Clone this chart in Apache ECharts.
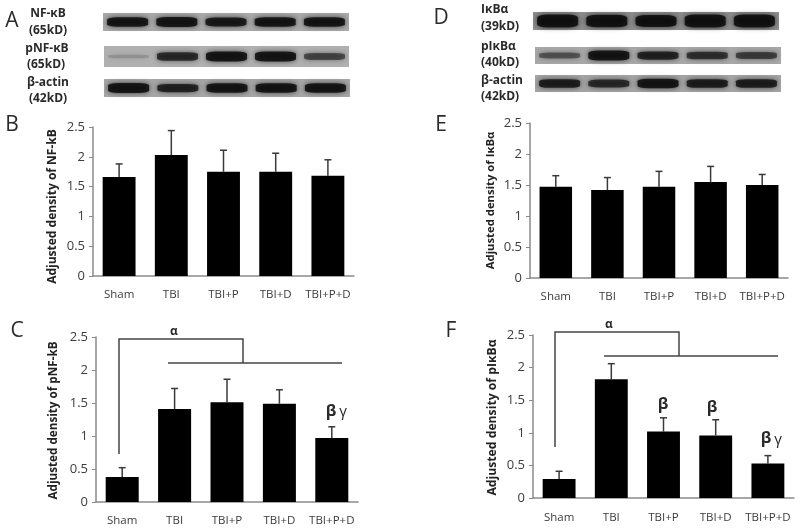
<!DOCTYPE html>
<html>
<head>
<meta charset="utf-8">
<style>
html, body { margin: 0; padding: 0; background: #fff; }
#main { width: 800px; height: 529px; }
</style>
<script src="https://cdn.jsdelivr.net/npm/echarts@6/dist/echarts.min.js"></script>
</head>
<body>
<div id="main"></div>
<script>
const groups = ["Sham", "TBI", "TBI+P", "TBI+D", "TBI+P+D"];
const yTicks = [0, 0.5, 1, 1.5, 2, 2.5];

// bar heights and upper end of the error bars
const nfkbMean = [1.66, 2.03, 1.75, 1.75, 1.68];
const nfkbTop = [1.88, 2.44, 2.11, 2.06, 1.95];
const pnfkbMean = [0.38, 1.41, 1.51, 1.49, 0.97];
const pnfkbTop = [0.52, 1.72, 1.86, 1.70, 1.14];
const ikbMean = [1.47, 1.42, 1.47, 1.55, 1.50];
const ikbTop = [1.65, 1.62, 1.72, 1.80, 1.67];
const pikbMean = [0.29, 1.82, 1.02, 0.96, 0.53];
const pikbTop = [0.41, 2.06, 1.23, 1.20, 0.65];

// how dark each lane of the blots looks (0-1)
const blotNfkb = [0.9, 1, 0.85, 0.95, 0.9];
const blotPnfkb = [0.05, 0.7, 0.9, 0.9, 0.5];
const blotActinA = [1, 0.75, 0.9, 0.95, 0.9];
const blotIkb = [1, 0.95, 0.9, 1, 1];
const blotPikb = [0.4, 1, 0.75, 0.65, 0.55];
const blotActinD = [0.8, 0.7, 0.9, 0.8, 0.8];

const panels = [
    { mean: nfkbMean, top: nfkbTop, name: "Adjusted density of NF-kB", left: 93, width: 261, y0: 127, h: 149, nameGap: 34, nameSize: 12, shift: 10, margin: 13 },
    { mean: pnfkbMean, top: pnfkbTop, name: "Adjusted density of pNF-kB", left: 96, width: 262, y0: 337, h: 165, nameGap: 36, nameSize: 11.7, shift: 2, margin: 13 },
    { mean: ikbMean, top: ikbTop, name: "Adjusted density of I\u03BAB\u03B1", left: 530, width: 258, y0: 123, h: 155, nameGap: 34, nameSize: 11.3, shift: 0, margin: 13 },
    { mean: pikbMean, top: pikbTop, name: "Adjusted density of pI\u03BAB\u03B1", left: 533, width: 261, y0: 335, h: 163, nameGap: 34, nameSize: 12.2, shift: 2, margin: 14 }
];

const blots = [
    { lanes: blotNfkb, left: 103, width: 246, y0: 13, h: 18, bg: "#a9a9a9", thick: 7 },
    { lanes: blotPnfkb, left: 104, width: 245, y0: 46, h: 21, bg: "#b0b0b0", thick: 8 },
    { lanes: blotActinA, left: 104, width: 246, y0: 79, h: 18, bg: "#a6a6a6", thick: 7 },
    { lanes: blotIkb, left: 533, width: 246, y0: 12, h: 18, bg: "#8c8c8c", thick: 10 },
    { lanes: blotPikb, left: 535, width: 246, y0: 47, h: 17, bg: "#a8a8a8", thick: 7 },
    { lanes: blotActinD, left: 535, width: 246, y0: 75, h: 17, bg: "#a4a4a4", thick: 7 }
];

const axisGrey = "#8a8a8a";
const textGrey = "#3c3c3c";
const uiFont = "'Open Sans', sans-serif";

const grid = [], xAxis = [], yAxis = [], series = [];

panels.forEach(function (p, i) {
    grid.push({ left: p.left, width: p.width, top: p.y0, height: p.h });
    xAxis.push({
        type: "category",
        gridIndex: i,
        data: groups,
        axisLine: { lineStyle: { color: axisGrey, width: 1.5 } },
        axisTick: { length: 4, lineStyle: { color: axisGrey, width: 1 } },
        axisLabel: { color: textGrey, fontFamily: uiFont, fontSize: 11.5, margin: p.margin, interval: 0 }
    });
    yAxis.push({
        type: "value",
        gridIndex: i,
        min: yTicks[0],
        max: yTicks[yTicks.length - 1],
        interval: 0.5,
        name: p.name,
        nameLocation: "middle",
        nameGap: p.nameGap,
        nameTextStyle: { color: "#222", fontFamily: uiFont, fontWeight: "bold", fontSize: p.nameSize, padding: [0, p.shift, 0, 0] },
        splitLine: { show: false },
        axisLine: { show: true, lineStyle: { color: axisGrey, width: 1.5 } },
        axisTick: { show: true, length: 4, lineStyle: { color: axisGrey, width: 1 } },
        axisLabel: { color: textGrey, fontFamily: uiFont, fontSize: 13, margin: 8 }
    });
    series.push({
        type: "bar",
        xAxisIndex: i,
        yAxisIndex: i,
        data: p.mean,
        barWidth: "63%",
        itemStyle: { color: "#000" }
    });
    series.push({
        type: "custom",
        xAxisIndex: i,
        yAxisIndex: i,
        z: 1,
        data: p.top.map(function (t, k) { return [k, p.mean[k], t]; }),
        // just the upper half of the whisker, the bar hides the rest
        renderItem: function (params, api) {
            const low = api.coord([api.value(0), api.value(1)]);
            const high = api.coord([api.value(0), api.value(2)]);
            const style = { stroke: "#3a3a3a", lineWidth: 1.5 };
            return {
                type: "group",
                children: [
                    { type: "line", shape: { x1: low[0], y1: low[1], x2: high[0], y2: high[1] }, style: style },
                    { type: "line", shape: { x1: high[0] - 3.5, y1: high[1], x2: high[0] + 3.5, y2: high[1] }, style: style }
                ]
            };
        }
    });
});

blots.forEach(function (b, j) {
    const idx = panels.length + j;
    grid.push({ left: b.left, width: b.width, top: b.y0, height: b.h, show: true, backgroundColor: b.bg, borderWidth: 0 });
    xAxis.push({ type: "category", gridIndex: idx, data: groups, show: false });
    yAxis.push({ type: "value", gridIndex: idx, min: 0, max: 1, show: false, splitLine: { show: false } });
    series.push({
        type: "scatter",
        xAxisIndex: idx,
        yAxisIndex: idx,
        silent: true,
        symbol: "roundRect",
        data: b.lanes.map(function (d, k) { return [k, 0.5, d]; }),
        symbolSize: function (v) { return [41, 3 + b.thick * v[2]]; },
        itemStyle: {
            color: function (params) { return "rgba(5,5,5," + Math.min(1, params.value[2] + 0.12) + ")"; },
            shadowColor: "rgba(0,0,0,0.8)",
            shadowBlur: 5
        }
    });
});

function label(text, x, y, size, weight, color, align) {
    return {
        type: "text",
        x: x,
        y: y,
        style: {
            text: text,
            fill: color || "#2a2a2a",
            font: (weight || "normal") + " " + size + "px " + uiFont,
            textAlign: align || "center",
            textVerticalAlign: "middle"
        }
    };
}

function bracket(points) {
    return { type: "polyline", shape: { points: points }, style: { fill: null, stroke: "#444", lineWidth: 1.5 } };
}

const graphic = [
    label("A", 12, 21, 21),
    label("B", 12, 125, 21),
    label("C", 17, 331, 21),
    label("D", 441, 18, 21),
    label("E", 441, 125, 21),
    label("F", 451, 331, 21),

    label("NF-\u03BAB", 48, 14, 12, "bold"),
    label("(65kD)", 48, 31, 12, "bold"),
    label("pNF-\u03BAB", 47, 49, 12, "bold"),
    label("(65kD)", 46, 65, 12, "bold"),
    label("\u03B2-actin", 48, 83, 12, "bold"),
    label("(42kD)", 48, 99, 12, "bold"),

    label("I\u03BAB\u03B1", 481, 10, 12, "bold", null, "left"),
    label("(39kD)", 481, 27, 12, "bold", null, "left"),
    label("pI\u03BAB\u03B1", 481, 47, 12, "bold", null, "left"),
    label("(40kD)", 481, 63, 12, "bold", null, "left"),
    label("\u03B2-actin", 481, 81, 12, "bold", null, "left"),
    label("(42kD)", 481, 97, 12, "bold", null, "left"),

    // significance brackets
    bracket([[119, 454], [119, 339], [243, 339], [243, 363]]),
    bracket([[168, 363], [342, 363]]),
    bracket([[555, 447], [555, 332], [679, 332], [679, 356]]),
    bracket([[604, 356], [778, 356]]),

    label("\u03B1", 174, 332, 12, "bold"),
    label("\u03B2", 331, 411, 16, "bold"),
    label("\u03B3", 343, 412, 15),
    label("\u03B1", 609, 325, 12, "bold"),
    label("\u03B2", 663, 404, 16, "bold"),
    label("\u03B2", 712, 407, 16, "bold"),
    label("\u03B2", 766, 438, 16, "bold"),
    label("\u03B3", 778, 440, 15)
];

const myChart = echarts.init(document.getElementById("main"));
myChart.setOption({
    backgroundColor: "#fff",
    animation: false,
    grid: grid,
    xAxis: xAxis,
    yAxis: yAxis,
    series: series,
    graphic: graphic
});
</script>
</body>
</html>
